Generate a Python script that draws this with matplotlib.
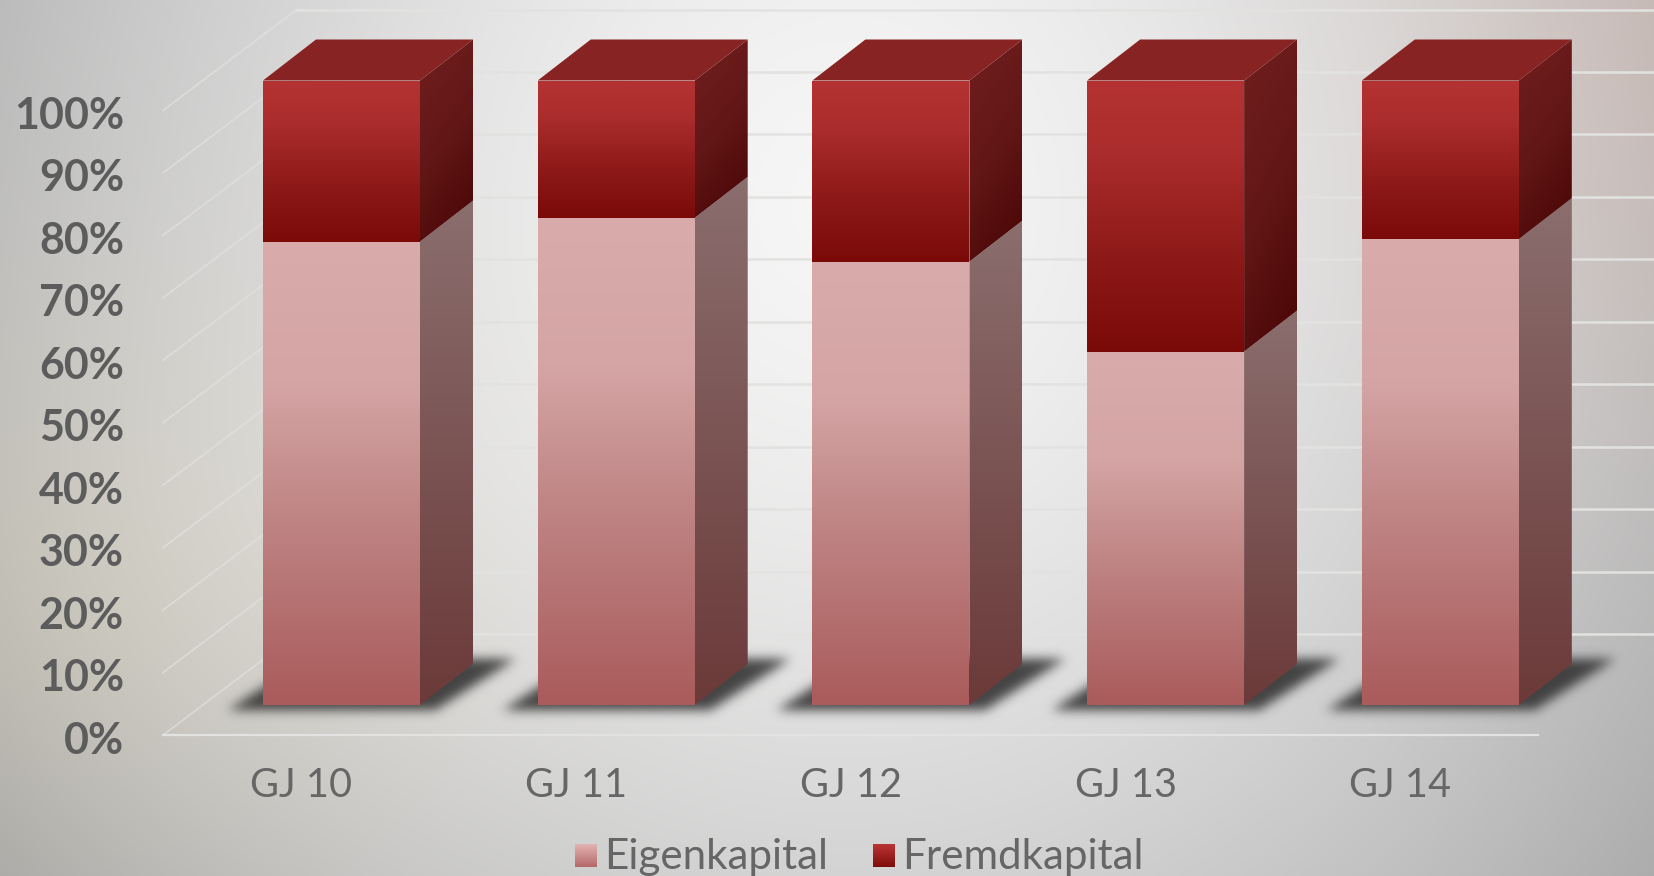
"""Gestapeltes 3D-Saeulendiagramm: Eigenkapital / Fremdkapital"""

import numpy as np
import matplotlib
matplotlib.use('Agg')
import matplotlib.pyplot as plt
from matplotlib.colors import to_rgb
from matplotlib.patches import Polygon

categories = ['GJ 10', 'GJ 11', 'GJ 12', 'GJ 13', 'GJ 14']
eigenkapital = [74.2, 78.0, 71.0, 56.6, 74.6]
fremdkapital = [25.8, 22.0, 29.0, 43.4, 25.4]
y_ticks = [0, 10, 20, 30, 40, 50, 60, 70, 80, 90, 100]

W, H = 1654, 876
PX_CAT = 274.7   # Pixel je Kategorie
PX_PCT = 6.245   # Pixel je Prozentpunkt
X0, Y0 = 341.5, 705   # Pixel von Kategorie 0 / 0 %
BAR_W = 157 / PX_CAT
DEPTH_X = 53 / PX_CAT
DEPTH_Y = 41 / PX_PCT
TEXT = '#5c5c5c'
GRID = '#e2e2e0'

plt.rcParams['font.family'] = ['Lato', 'DejaVu Sans']

fig = plt.figure(figsize=(W / 100, H / 100), dpi=100)
ax = fig.add_axes([0, 0, 1, 1])
xlim = (-X0 / PX_CAT, (W - X0) / PX_CAT)
ylim = ((Y0 - H) / PX_PCT, Y0 / PX_PCT)


def px_x(px):
    return (px - X0) / PX_CAT


def px_y(px):
    return (Y0 - px) / PX_PCT


def ramp(stops, t):
    """Farbverlauf aus (position, farbe)-Stops"""
    pos = [s[0] for s in stops]
    rgb = np.array([to_rgb(s[1]) for s in stops])
    return np.stack([np.interp(t, pos, rgb[:, k]) for k in range(3)], axis=-1)


def gradient_poly(points, stops, diagonal=False, zorder=5):
    """Polygon mit Verlauf: imshow auf das Polygon geclippt"""
    pts = np.array(points)
    x0, x1, y0, y1 = pts[:, 0].min(), pts[:, 0].max(), pts[:, 1].min(), pts[:, 1].max()
    yy, xx = np.mgrid[0:1:200j, 0:1:60j]
    t = (yy * 0.75 + xx * 0.25) if diagonal else yy
    im = ax.imshow(ramp(stops, t), extent=(x0, x1, y0, y1), origin='upper',
                   aspect='auto', interpolation='bilinear', zorder=zorder)
    im.set_clip_path(Polygon(pts, closed=True, transform=ax.transData))


# Hintergrund
yy, xx = np.mgrid[0:H:219j, 0:W:414j]
dist = np.sqrt(((xx - 850) / 1000) ** 2 + ((yy - 200) / 1100) ** 2)
gray = 246 - 72 * np.clip(dist, 0, 1.25) ** 1.5
bg = np.stack([gray, gray, gray], axis=-1)
beige = np.exp(-(((xx - 60) / 380) ** 2 + ((yy - 600) / 300) ** 2))
pink = np.exp(-(((xx - 1700) / 300) ** 2 + ((yy - 60) / 330) ** 2))
bg += beige[..., None] * np.array([12, 9, 0])
bg += pink[..., None] * np.array([6, -6, -10])
ax.imshow(np.clip(bg, 0, 255) / 255, extent=(*xlim, *ylim), aspect='auto',
          interpolation='bilinear', zorder=0)

# Gitterlinien: Rueckwand und Seitenwand
for v in y_ticks:
    y_front = px_y(735 - PX_PCT * v)
    y_back = px_y(634 - PX_PCT * v)
    ax.plot([px_x(163), px_x(297)], [y_front, y_back], color=GRID, lw=1.2, alpha=0.7, zorder=1)
    ax.plot([px_x(297), px_x(W + 5)], [y_back, y_back], color=GRID, lw=1.8, zorder=1)
ax.plot([px_x(163), px_x(1538)], [px_y(735), px_y(735)], color=GRID, lw=1.6, zorder=1)

# Schatten am Boden
sx, sy = np.mgrid[0:80:81j, 0:320:321j]
kernel = np.exp(-0.5 * (np.arange(-18, 19) / 5.5) ** 2)
kernel /= kernel.sum()
for i in range(len(categories)):
    off = PX_CAT * i
    mask = ((sx >= 15) & (sx <= 66)
            & (sy >= 20 + (66 - sx) * 1.55) & (sy <= 228 + (66 - sx) * 1.55)).astype(float)
    mask = np.apply_along_axis(lambda r: np.convolve(r, kernel, mode='same'), 0, mask)
    mask = np.apply_along_axis(lambda r: np.convolve(r, kernel, mode='same'), 1, mask)
    rgba = np.zeros(mask.shape + (4,))
    rgba[..., :3] = 0.2
    rgba[..., 3] = mask * 0.9
    ax.imshow(rgba, extent=(px_x(208 + off), px_x(528 + off), px_y(724), px_y(644)),
              aspect='auto', interpolation='bilinear', zorder=2)

# Saeulen
pink_front = [(0, '#d9abab'), (0.3, '#d5a5a5'), (0.6, '#bf8484'), (1, '#aa5b5b')]
pink_side = [(0, '#8b6e6e'), (1, '#6b3a39')]
red_front = [(0, '#b43232'), (0.25, '#ac2d2d'), (0.65, '#8d1a18'), (1, '#7a0a08')]
red_side = [(0, '#721e1e'), (0.5, '#611716'), (1, '#470403')]
for i in range(len(categories)):
    left, right = i - BAR_W / 2, i + BAR_W / 2
    split = eigenkapital[i]
    top = split + fremdkapital[i]
    gradient_poly([(left, 0), (right, 0), (right, split), (left, split)], pink_front)
    gradient_poly([(right, 0), (right + DEPTH_X, DEPTH_Y), (right + DEPTH_X, split + DEPTH_Y),
                   (right, split)], pink_side)
    gradient_poly([(left, split), (right, split), (right, top), (left, top)], red_front)
    gradient_poly([(right, split), (right + DEPTH_X, split + DEPTH_Y),
                   (right + DEPTH_X, top + DEPTH_Y), (right, top)], red_side, diagonal=True)
    ax.add_patch(Polygon([(left, top), (right, top), (right + DEPTH_X, top + DEPTH_Y),
                          (left + DEPTH_X, top + DEPTH_Y)], closed=True,
                         facecolor='#872423', edgecolor='none', zorder=5))

# Beschriftung
for v in y_ticks:
    ax.text(px_x(124), px_y(737 - PX_PCT * v), f'{v}%', ha='right', va='center_baseline',
            fontsize=31, fontweight='bold', color=TEXT, zorder=6)
for i, name in enumerate(categories):
    ax.text(i - 40 / PX_CAT, px_y(782), name, ha='center', va='center_baseline',
            fontsize=28.5, fontweight='normal', color='#666666', zorder=6)

# Legende
legend_items = [('Eigenkapital', 575, [(0, '#e3b3b3'), (1, '#b56868')]),
                ('Fremdkapital', 873, [(0, '#bb3636'), (1, '#7f0c0a')])]
for name, x_px, stops in legend_items:
    x0, x1 = px_x(x_px), px_x(x_px + 22)
    y0, y1 = px_y(867), px_y(844)
    gradient_poly([(x0, y0), (x1, y0), (x1, y1), (x0, y1)], stops, zorder=6)
    ax.text(px_x(x_px + 29), px_y(854), name, ha='left', va='center_baseline',
            fontsize=30.3, fontweight='normal', color='#666666', zorder=6)

ax.set_xlim(*xlim)
ax.set_ylim(*ylim)
ax.axis('off')
fig.savefig('out.png', dpi=100)
